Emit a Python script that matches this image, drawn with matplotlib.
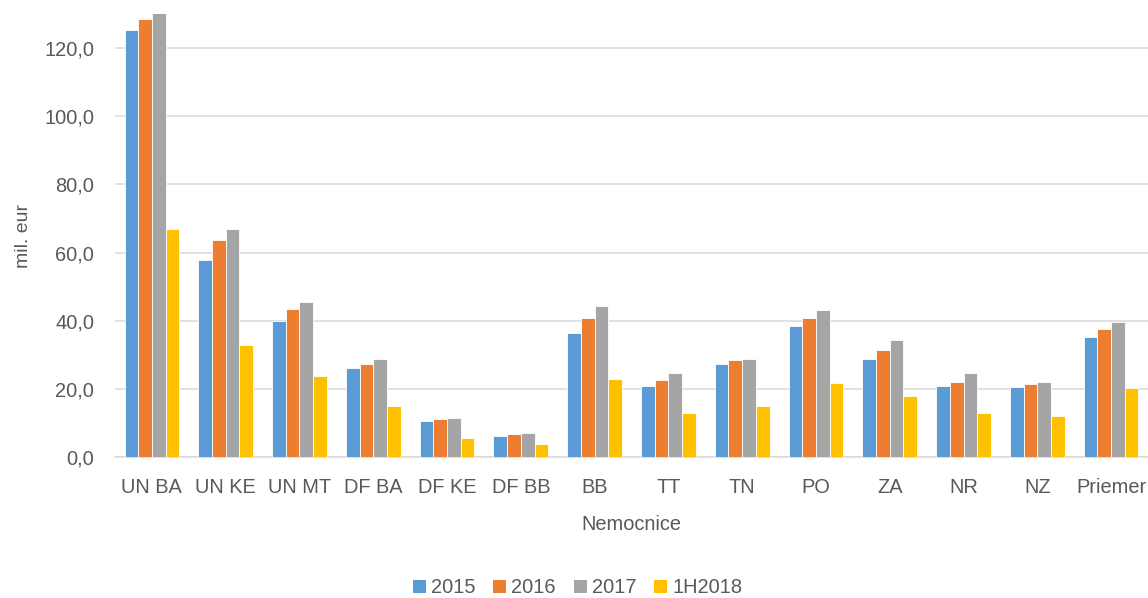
import numpy as np
import matplotlib
matplotlib.use("Agg")
from matplotlib import pyplot as plt
from matplotlib.patches import Patch

# --- Data (mil. eur per hospital) ---
hospitals = ["UN BA", "UN KE", "UN MT", "DF BA", "DF KE", "DF BB", "BB",
             "TT", "TN", "PO", "ZA", "NR", "NZ", "Priemer"]
series_names = ["2015", "2016", "2017", "1H2018"]
vals_2015 = [125.2, 57.7, 39.9, 26.2, 10.7, 6.2, 36.4, 20.9, 27.2, 38.4, 28.7, 20.9, 20.4, 35.3]
vals_2016 = [128.6, 63.8, 43.5, 27.2, 11.1, 6.7, 40.8, 22.6, 28.4, 40.8, 31.4, 22.0, 21.4, 37.6]
vals_2017 = [131.5, 66.8, 45.6, 28.7, 11.3, 7.0, 44.3, 24.6, 28.9, 43.0, 34.4, 24.6, 22.1, 39.5]
vals_1h2018 = [66.9, 32.8, 23.9, 14.9, 5.7, 3.9, 22.9, 12.8, 14.9, 21.8, 17.9, 12.8, 11.9, 20.3]
y_ticks = [0, 20, 40, 60, 80, 100, 120]

colors = ["#5B9BD5", "#ED7D31", "#A5A5A5", "#FFC000"]
text_col = "#595959"
grid_col = "#D9D9D9"
fam = ["Liberation Sans", "DejaVu Sans"]
fs = 14.4

fig = plt.figure(figsize=(11.48, 5.98), dpi=100)
ax = fig.add_axes([115 / 1148, 141 / 598, 1033 / 1148, 443 / 598])

x = np.arange(len(hospitals))
w = 0.1856
all_series = [vals_2015, vals_2016, vals_2017, vals_1h2018]
for i, (vals, col) in enumerate(zip(all_series, colors)):
    ax.bar(x + (i - 1.5) * w, vals, width=w, color=col, edgecolor="white",
           linewidth=0.6, zorder=3)

ax.set_xlim(-0.5, len(hospitals) - 0.5)
ax.set_ylim(0, 130)

# gridlines + axis styling
ax.set_yticks(y_ticks)
ax.set_yticklabels([f"{v:.1f}".replace(".", ",") for v in y_ticks],
                   fontsize=fs, color=text_col, family=fam)
ax.set_xticks(x)
ax.set_xticklabels(hospitals, fontsize=fs, color=text_col, family=fam)
ax.tick_params(axis="both", length=0)
ax.tick_params(axis="y", pad=15)
ax.tick_params(axis="x", pad=15)
ax.grid(axis="y", color=grid_col, linewidth=1.1, zorder=0)
for side in ["top", "right", "left"]:
    ax.spines[side].set_visible(False)
ax.spines["bottom"].set_color(grid_col)
ax.spines["bottom"].set_linewidth(1.1)

ax.set_xlabel("Nemocnice", fontsize=fs, color=text_col, family=fam, labelpad=13)
ax.set_ylabel("mil. eur", fontsize=14.0, color=text_col, family=fam)
ax.yaxis.set_label_coords(-0.080, 0.5)

# legend centered under the figure
handles = [Patch(facecolor=c, edgecolor="none") for c in colors]
leg = fig.legend(handles, series_names, loc="center", bbox_to_anchor=(0.503, 0.017),
                 ncol=4, frameon=False, handlelength=0.65, handleheight=0.65,
                 handletextpad=0.25, columnspacing=0.9,
                 prop={"family": fam, "size": fs})
for t in leg.get_texts():
    t.set_color(text_col)

fig.savefig("out.png", dpi=100)
